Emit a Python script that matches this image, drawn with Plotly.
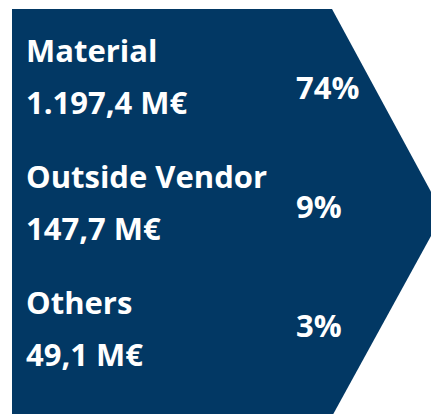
import plotly.graph_objects as go

categories = ["Material", "Outside Vendor", "Others"]
amounts = ["1.197,4 M€", "147,7 M€", "49,1 M€"]
shares = [74, 9, 3]

NAVY = "#023864"
W, H = 431, 414

# chevron outline in pixel-like coordinates (y goes down)
arrow_x = [12, 332, 443, 330, 12, 12]
arrow_y = [9, 9, 214, 420, 420, 9]

fig = go.Figure()
fig.add_trace(go.Scatter(x=arrow_x, y=arrow_y, fill="toself", fillcolor=NAVY,
                         mode="lines", line=dict(width=0, color=NAVY),
                         hoverinfo="skip", showlegend=False))

font = dict(family="Open Sans", size=31, color="white", weight="bold")
name_top, name_step = 50, 126
pct_top, pct_step = 87, 119
for i, (cat, amt, pct) in enumerate(zip(categories, amounts, shares)):
    y0 = name_top + i * name_step
    fig.add_annotation(x=24, y=y0, text=cat, showarrow=False,
                       xanchor="left", yanchor="middle", font=font)
    fig.add_annotation(x=24, y=y0 + 52, text=amt, showarrow=False,
                       xanchor="left", yanchor="middle", font=font)
    fig.add_annotation(x=294, y=pct_top + i * pct_step, text=f"{pct}%", showarrow=False,
                       xanchor="left", yanchor="middle", font=font)

fig.update_layout(
    width=W, height=H,
    margin=dict(l=0, r=0, t=0, b=0),
    paper_bgcolor="white", plot_bgcolor="white",
    xaxis=dict(range=[0, W], visible=False, fixedrange=True),
    yaxis=dict(range=[H, 0], visible=False, fixedrange=True),
)

fig.write_html("out.html", config={"displayModeBar": False},
               post_script="document.body.style.margin='0';")
